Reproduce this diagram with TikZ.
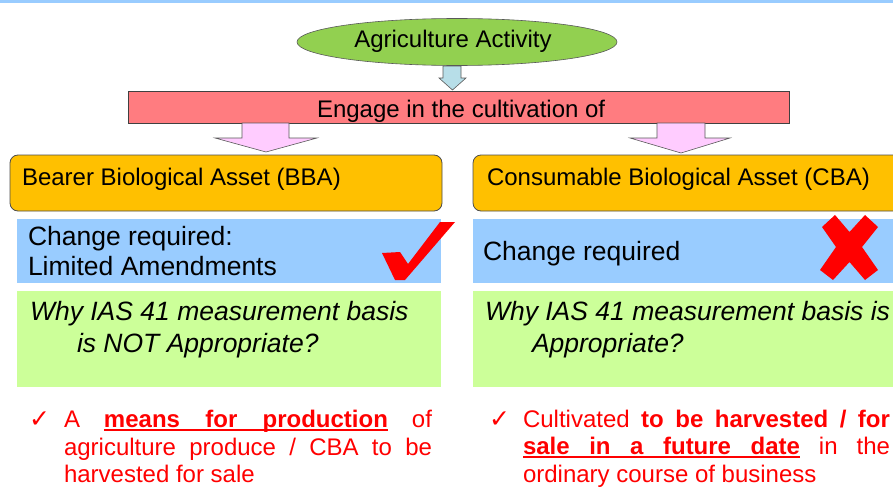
\documentclass[tikz,border=0pt]{standalone}
\usepackage{fontspec}
\setmainfont{Liberation Sans}
\newfontfamily\djv{DejaVu Sans}
\usetikzlibrary{shapes.geometric}
\newcommand\myfs[1]{\fontsize{#1}{#1}\selectfont}
\definecolor{topblue}{HTML}{99CCFF}
\definecolor{ellgreen}{HTML}{92D050}
\definecolor{arrblue}{HTML}{B7DEE8}
\definecolor{barred}{HTML}{FF7C80}
\definecolor{pinkarr}{HTML}{FFCCFF}
\definecolor{orangebox}{HTML}{FFC000}
\definecolor{bluebox}{HTML}{99CCFF}
\definecolor{greenbox}{HTML}{CCFF99}
\definecolor{markred}{HTML}{FF0000}
\tikzset{
  every node/.style={inner sep=0pt, outer sep=0pt},
  lbl/.style={anchor=base west, font=\myfs{24}},
  biglbl/.style={anchor=base west, font=\myfs{26.5}},
  itlbl/.style={anchor=base west, font=\myfs{26.5}\itshape},
  redlbl/.style={anchor=base west, font=\myfs{24}, text=markred},
  tick/.style={anchor=base west, font=\djv\myfs{25}, text=markred},
  blockarrow/.style={draw=gray!70!black, line width=0.6pt},
  orangestyle/.style={rectangle, rounded corners=8pt, draw=black!70, line width=0.8pt, fill=orangebox, minimum width=432pt, minimum height=56pt},
  bluestyle/.style={rectangle, fill=bluebox, minimum height=64pt},
  greenstyle/.style={rectangle, fill=greenbox, minimum height=96pt},
}
\begin{document}
\begin{tikzpicture}[x=1pt,y=-1pt]
\useasboundingbox (0,0) rectangle (893,487);
\fill[topblue] (0,0) rectangle (893,3);

% top ellipse
\node[ellipse, draw=gray!70!black, line width=0.6pt, fill=ellgreen, minimum width=320pt, minimum height=47pt] (act) at (457,42) {};
\node[anchor=base, font=\myfs{24}] (acttxt) at (453,48) {Agriculture Activity};

% small arrow
\draw[blockarrow, fill=arrblue] (443,66) -- (461,66) -- (461,78) -- (466,78) -- (452.5,90) -- (439,78) -- (443,78) -- cycle;

% red bar
\node[rectangle, draw=gray!50!black, line width=0.6pt, fill=barred, minimum width=661pt, minimum height=32pt] (engage) at (458.5,107) {};
\node[lbl] (engagetxt) at (317,117) {Engage in the cultivation of};

% pink block arrows
\draw[blockarrow, fill=pinkarr] (242,123) -- (289,123) -- (289,138) -- (317,138) -- (266,152) -- (215,138) -- (242,138) -- cycle;
\draw[blockarrow, fill=pinkarr] (657,123) -- (705,123) -- (705,138) -- (730,138) -- (681,153) -- (630,138) -- (657,138) -- cycle;

% orange boxes
\node[orangestyle] (bba) at (226,183) {};
\node[lbl] (bbatxt) at (22,185) {Bearer Biological Asset (BBA)};
\node[orangestyle, minimum width=440pt] (cba) at (693,183) {};
\node[lbl] (cbatxt) at (487,185) {Consumable Biological Asset (CBA)};

% blue boxes
\node[bluestyle, minimum width=424pt] (chl) at (229,251) {};
\node[bluestyle, minimum width=420pt] (chr) at (683,251) {};
\node[biglbl] (chl1) at (28,245) {Change required:};
\node[biglbl] (chl2) at (28,275) {Limited Amendments};
\node[biglbl] (chr1) at (483,260) {Change required};

% check mark and cross
\fill[markred] (382,253) -- (400,252) -- (408,264) -- (440,222) -- (455,222) -- (405,280) -- (395,280) -- cycle;
\fill[markred] (835,215) -- (849.5,232) -- (865,215) -- (878,227) -- (862,247) -- (878,270) -- (865,280) -- (849.5,262) -- (833,280) -- (820,270) -- (836,247) -- (822,227) -- cycle;

% green boxes
\node[greenstyle, minimum width=424pt] (whyl) at (229,339) {};
\node[greenstyle, minimum width=420pt] (whyr) at (683,339) {};
\node[itlbl] (whyl1) at (30,320) {Why IAS 41 measurement basis};
\node[itlbl] (whyl2) at (77,352) {is NOT Appropriate?};
\node[itlbl] (whyr1) at (485,320) {Why IAS 41 measurement basis is};
\node[itlbl] (whyr2) at (532,352) {Appropriate?};

% bottom left text
\node[tick] (tickl) at (29,427) {✓};
\node[redlbl] (bl1) at (64,427) {\hbox to 368pt{A\hfil\rlap{\rule[-3.8pt]{284pt}{2.2pt}}\hbox to 284pt{\bfseries means\hfil for\hfil production}\hfil of}};
\node[redlbl] (bl2) at (64,455) {\makebox[368pt][s]{agriculture produce / CBA to be}};
\node[redlbl] (bl3) at (64,482) {harvested for sale};

% bottom right text
\node[tick] (tickr) at (489,427) {✓};
\node[redlbl] (br1) at (523,427) {\makebox[367pt][s]{Cultivated \textbf{to be harvested / for}}};
\node[redlbl] (br2) at (523,454) {\hbox to 367pt{\rlap{\rule[-3.8pt]{277pt}{2.2pt}}\hbox to 277pt{\bfseries sale\hfil in\hfil a\hfil future\hfil date}\hfil in\hfil the}};
\node[redlbl] (br3) at (523,482) {ordinary course of business};
\end{tikzpicture}
\end{document}
